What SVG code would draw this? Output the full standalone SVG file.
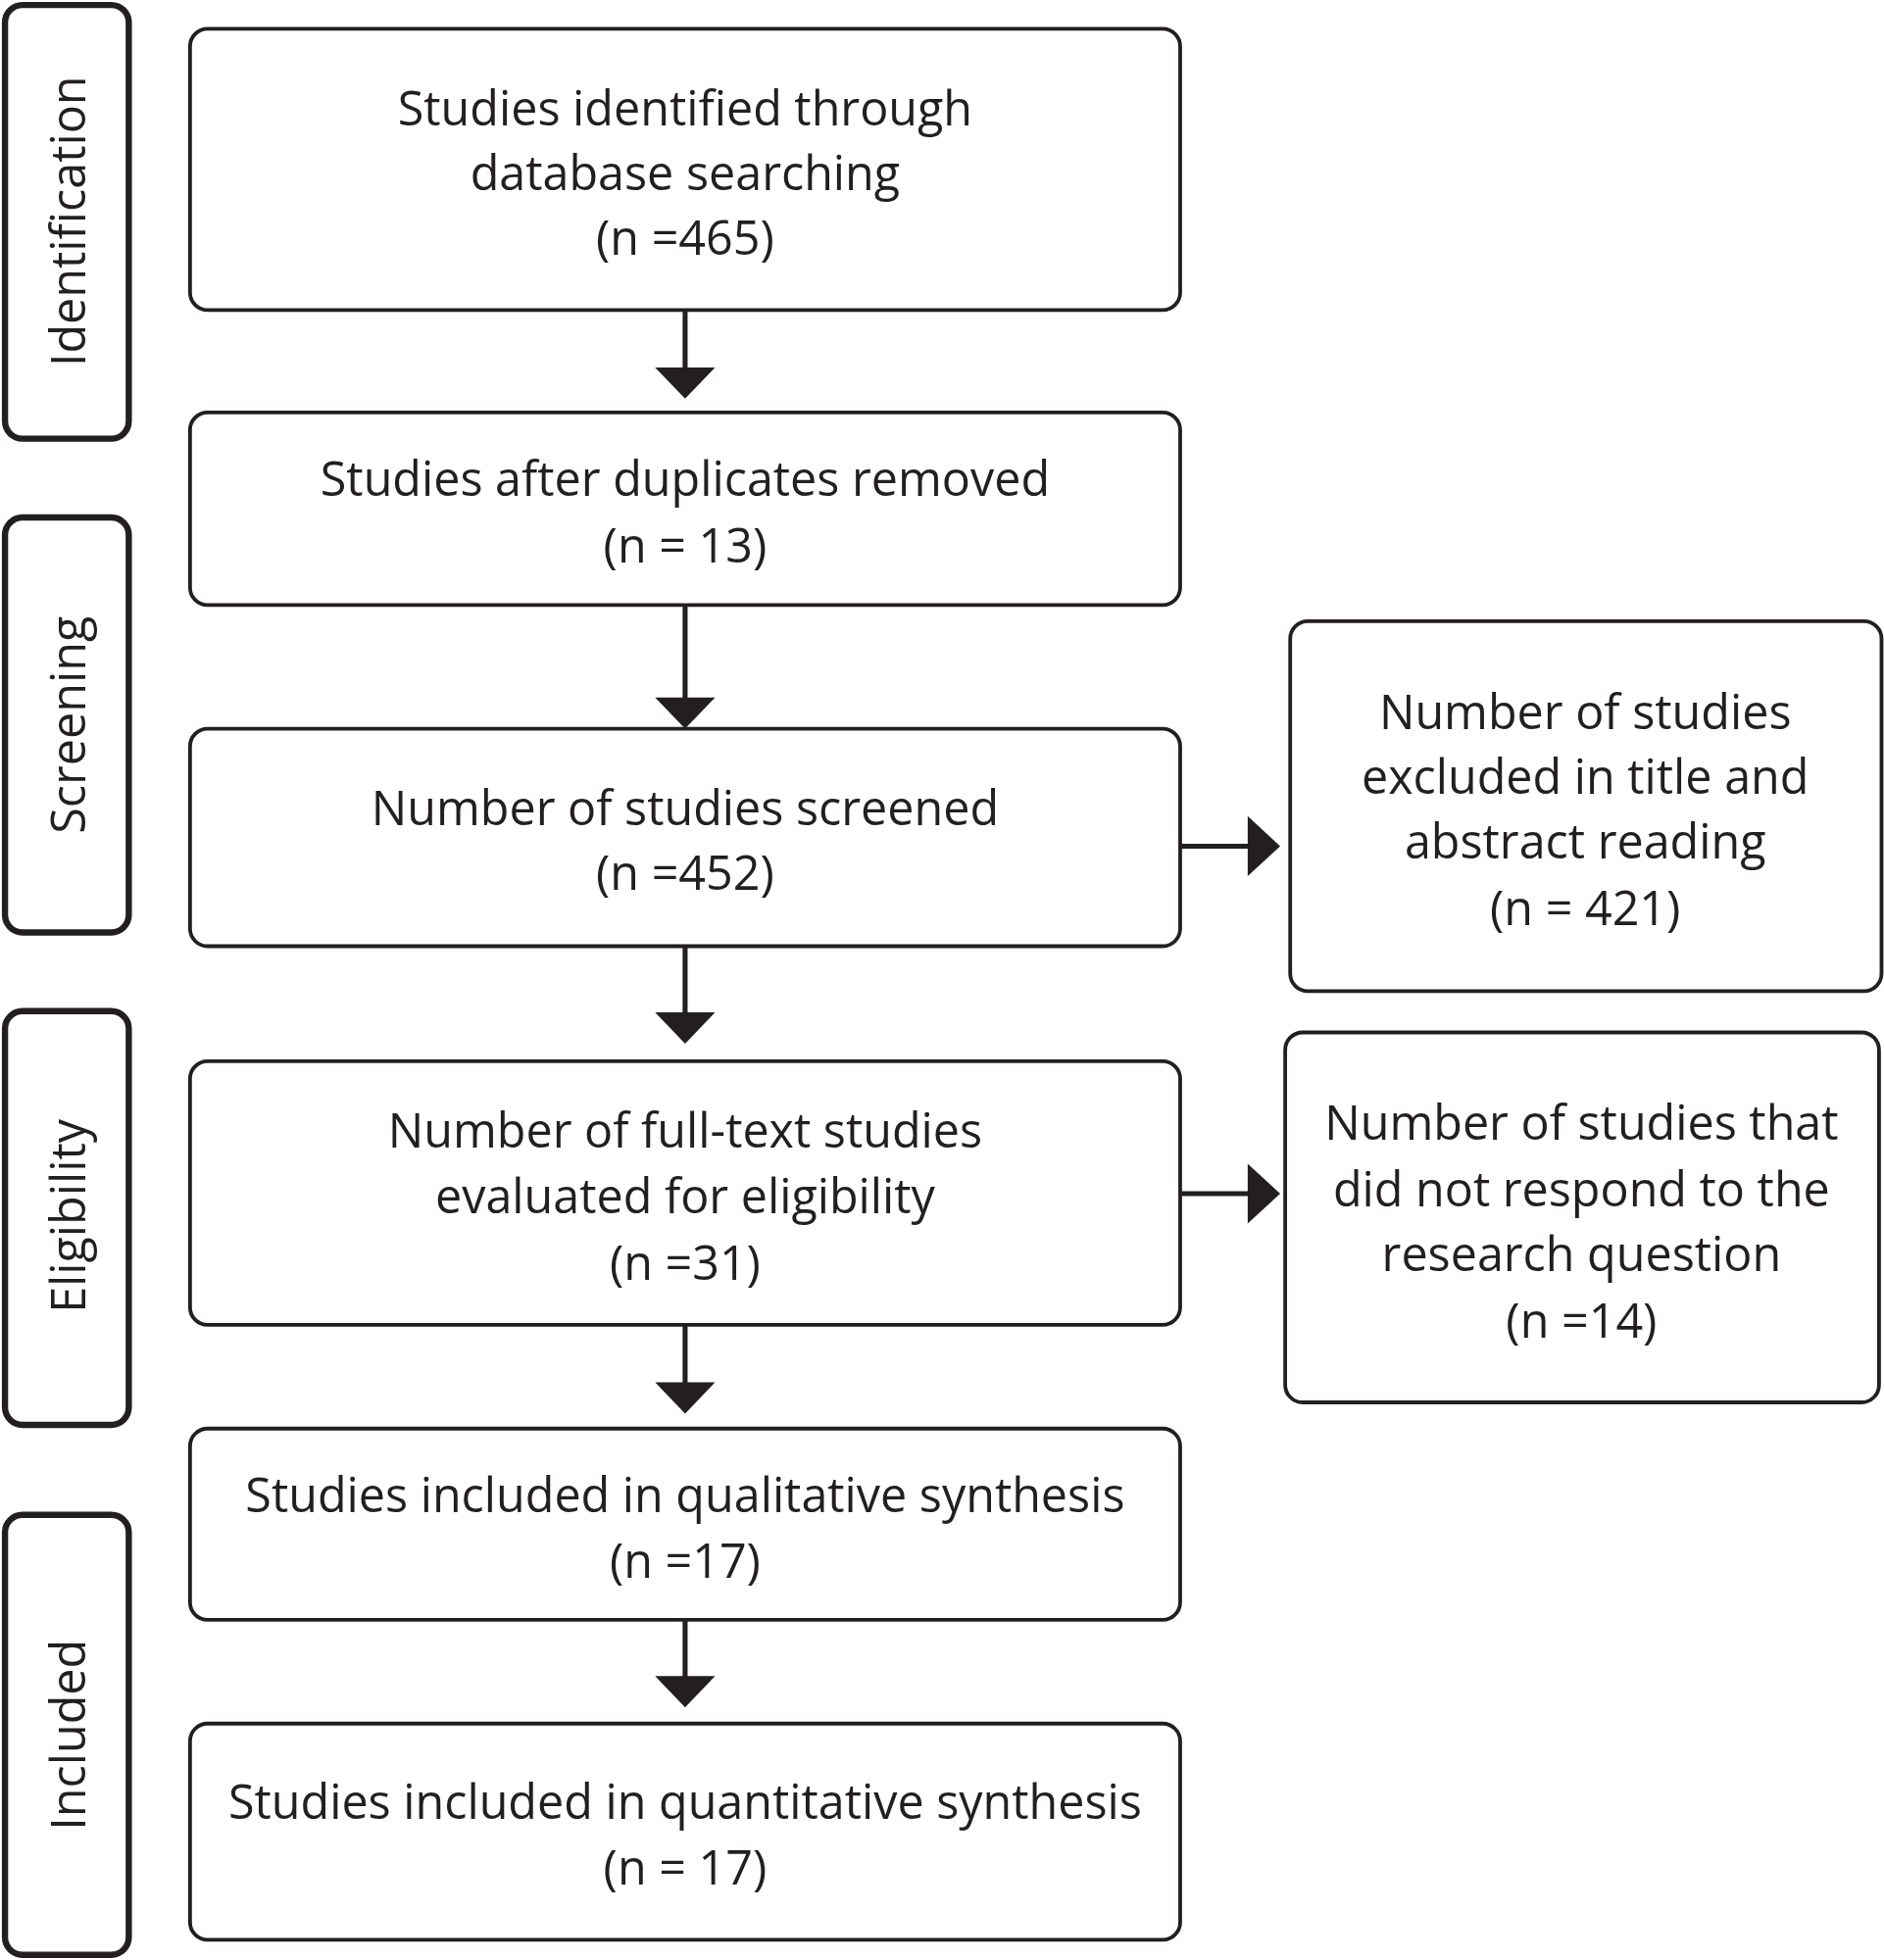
<svg xmlns="http://www.w3.org/2000/svg" width="1922" height="2000" viewBox="0 0 1922 2000">
<style>
.b{fill:#fff;stroke:#231f20;stroke-width:3}
.s{fill:#fff;stroke:#231f20;stroke-width:5}
.t{font-family:"Open Sans","Liberation Sans",sans-serif;font-size:38px;fill:#231f20;text-anchor:middle}
.c{stroke:#231f20;stroke-width:4;fill:none}
.h{fill:#231f20}
</style>
<rect width="1922" height="2000" fill="#fff"/>
<g transform="scale(1.2754)">
<g id="side-identification"><rect class="s" x="4" y="4" width="99" height="347" rx="14"/><text class="t" transform="translate(68,177) rotate(-90)">Identification</text></g>
<g id="side-screening"><rect class="s" x="4" y="414" width="99" height="332" rx="14"/><text class="t" transform="translate(68,580) rotate(-90)">Screening</text></g>
<g id="side-eligibility"><rect class="s" x="4" y="809" width="99" height="331" rx="14"/><text class="t" transform="translate(68,973) rotate(-90)">Eligibility</text></g>
<g id="side-included"><rect class="s" x="4" y="1212" width="99" height="352" rx="14"/><text class="t" transform="translate(68,1388) rotate(-90)">Included</text></g>

<g id="n1"><rect class="b" x="152" y="23" width="792" height="225" rx="14"/><text class="t" x="548" y="100">Studies identified through</text><text class="t" x="548" y="152">database searching</text><text class="t" x="548" y="204">(n =465)</text></g>
<g id="n2"><rect class="b" x="152" y="330" width="792" height="154" rx="14"/><text class="t" x="548" y="397">Studies after duplicates removed</text><text class="t" x="548" y="450">(n = 13)</text></g>
<g id="n3"><rect class="b" x="152" y="583" width="792" height="174" rx="14"/><text class="t" x="548" y="660">Number of studies screened</text><text class="t" x="548" y="712">(n =452)</text></g>
<g id="n4"><rect class="b" x="152" y="849" width="792" height="211" rx="14"/><text class="t" x="548" y="918">Number of full-text studies</text><text class="t" x="548" y="971">evaluated for eligibility</text><text class="t" x="548" y="1024">(n =31)</text></g>
<g id="n5"><rect class="b" x="152" y="1143" width="792" height="153" rx="14"/><text class="t" x="548" y="1210">Studies included in qualitative synthesis</text><text class="t" x="548" y="1262">(n =17)</text></g>
<g id="n6"><rect class="b" x="152" y="1379" width="792" height="173" rx="14"/><text class="t" x="548" y="1455">Studies included in quantitative synthesis</text><text class="t" x="548" y="1508">(n = 17)</text></g>
<g id="r1"><rect class="b" x="1032" y="497" width="473" height="296" rx="14"/><text class="t" x="1268" y="583">Number of studies</text><text class="t" x="1268" y="635">excluded in title and</text><text class="t" x="1268" y="687">abstract reading</text><text class="t" x="1268" y="740">(n = 421)</text></g>
<g id="r2"><rect class="b" x="1028" y="826" width="475" height="296" rx="14"/><text class="t" x="1265" y="912">Number of studies that</text><text class="t" x="1265" y="965">did not respond to the</text><text class="t" x="1265" y="1017">research question</text><text class="t" x="1265" y="1070">(n =14)</text></g>

<g id="connectors">
<path class="c" d="M548 248V296"/><path class="h" d="M524 294H572L548 319Z"/>
<path class="c" d="M548 484V560"/><path class="h" d="M524 558H572L548 583Z"/>
<path class="c" d="M548 757V812"/><path class="h" d="M524 810H572L548 835Z"/>
<path class="c" d="M548 1060V1108"/><path class="h" d="M524 1106H572L548 1131Z"/>
<path class="c" d="M548 1296V1343"/><path class="h" d="M524 1341H572L548 1366Z"/>
<path class="c" d="M944 677H1000"/><path class="h" d="M998 653V701L1024 677Z"/>
<path class="c" d="M944 955H1000"/><path class="h" d="M998 931V979L1024 955Z"/>
</g>
</g>
</svg>
